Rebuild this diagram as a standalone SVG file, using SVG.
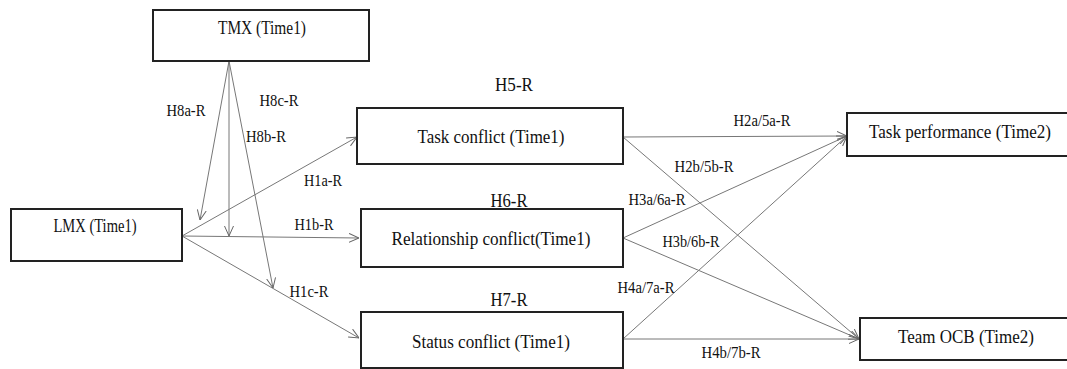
<svg xmlns="http://www.w3.org/2000/svg" width="1067" height="369" viewBox="0 0 1067 369">
<defs>
<marker id="arr" viewBox="0 0 10 10" refX="10" refY="5" markerWidth="10" markerHeight="10" markerUnits="userSpaceOnUse" orient="auto">
<path d="M0,0.5 L10,5 L0,9.5" fill="none" stroke="#666" stroke-width="1"/>
</marker>
</defs>
<style>
.box{fill:#fff;stroke:#222;stroke-width:2}
.t{font-size:19px;fill:#111;text-anchor:middle}
.l{font-size:16px;fill:#111;text-anchor:middle}
.c{fill:none;stroke:#777;stroke-width:1;marker-end:url(#arr)}
</style>
<rect width="1067" height="369" fill="#fff"/>
<g font-family="Liberation Serif, DejaVu Serif, serif">
<g id="connectors">
<line class="c" x1="182" y1="236" x2="357" y2="137"/>
<line class="c" x1="182" y1="236" x2="359" y2="238"/>
<line class="c" x1="182" y1="236" x2="359" y2="338"/>
<line class="c" x1="229" y1="61" x2="200" y2="220"/>
<line class="c" x1="229" y1="61" x2="229" y2="236"/>
<line class="c" x1="229" y1="61" x2="273" y2="288"/>
<line class="c" x1="623" y1="137" x2="847" y2="136"/>
<line class="c" x1="623" y1="137" x2="859" y2="339"/>
<line class="c" x1="623" y1="238" x2="847" y2="136"/>
<line class="c" x1="623" y1="238" x2="859" y2="339"/>
<line class="c" x1="623" y1="339" x2="847" y2="136"/>
<line class="c" x1="623" y1="339" x2="859" y2="339"/>
<text class="l" x="186" y="116" textLength="39" lengthAdjust="spacingAndGlyphs">H8a-R</text>
<text class="l" x="279" y="106" textLength="39" lengthAdjust="spacingAndGlyphs">H8c-R</text>
<text class="l" x="266" y="142" textLength="40" lengthAdjust="spacingAndGlyphs">H8b-R</text>
<text class="l" x="323" y="186" textLength="38" lengthAdjust="spacingAndGlyphs">H1a-R</text>
<text class="l" x="314" y="230" textLength="39" lengthAdjust="spacingAndGlyphs">H1b-R</text>
<text class="l" x="309" y="297" textLength="39" lengthAdjust="spacingAndGlyphs">H1c-R</text>
<text class="l" x="762" y="126" textLength="57" lengthAdjust="spacingAndGlyphs">H2a/5a-R</text>
<text class="l" x="704" y="172" textLength="59" lengthAdjust="spacingAndGlyphs">H2b/5b-R</text>
<text class="l" x="657" y="205" textLength="57" lengthAdjust="spacingAndGlyphs">H3a/6a-R</text>
<text class="l" x="691" y="247" textLength="57" lengthAdjust="spacingAndGlyphs">H3b/6b-R</text>
<text class="l" x="646" y="293" textLength="57" lengthAdjust="spacingAndGlyphs">H4a/7a-R</text>
<text class="l" x="731" y="358" textLength="59" lengthAdjust="spacingAndGlyphs">H4b/7b-R</text>
</g>
<g id="tmx"><rect class="box" x="153" y="10" width="216" height="51"/><text class="t" x="262" y="34" textLength="88" lengthAdjust="spacingAndGlyphs">TMX (Time1)</text></g>
<g id="lmx"><rect class="box" x="11" y="209" width="171" height="52"/><text class="t" x="95" y="232" textLength="83" lengthAdjust="spacingAndGlyphs">LMX (Time1)</text></g>
<g id="task"><text class="t" x="514" y="91" textLength="38" lengthAdjust="spacingAndGlyphs">H5-R</text><rect class="box" x="357" y="108" width="266" height="56"/><text class="t" x="491" y="143" textLength="147" lengthAdjust="spacingAndGlyphs">Task conflict (Time1)</text></g>
<g id="rel"><text class="t" x="509" y="207" textLength="37" lengthAdjust="spacingAndGlyphs">H6-R</text><rect class="box" x="361" y="209" width="262" height="58"/><text class="t" x="491" y="245" textLength="199" lengthAdjust="spacingAndGlyphs">Relationship conflict(Time1)</text></g>
<g id="status"><text class="t" x="509" y="306" textLength="37" lengthAdjust="spacingAndGlyphs">H7-R</text><rect class="box" x="361" y="312" width="262" height="56"/><text class="t" x="491" y="348" textLength="158" lengthAdjust="spacingAndGlyphs">Status conflict (Time1)</text></g>
<g id="perf"><path class="box" d="M1067,113 H847 V156 H1067"/><text class="t" x="960" y="138" font-size="18" style="font-size:18px" textLength="182" lengthAdjust="spacingAndGlyphs">Task performance (Time2)</text></g>
<g id="ocb"><path class="box" d="M1067,318 H860 V360 H1067"/><text class="t" x="966" y="343" textLength="136" lengthAdjust="spacingAndGlyphs">Team OCB (Time2)</text></g>
</g>
</svg>
